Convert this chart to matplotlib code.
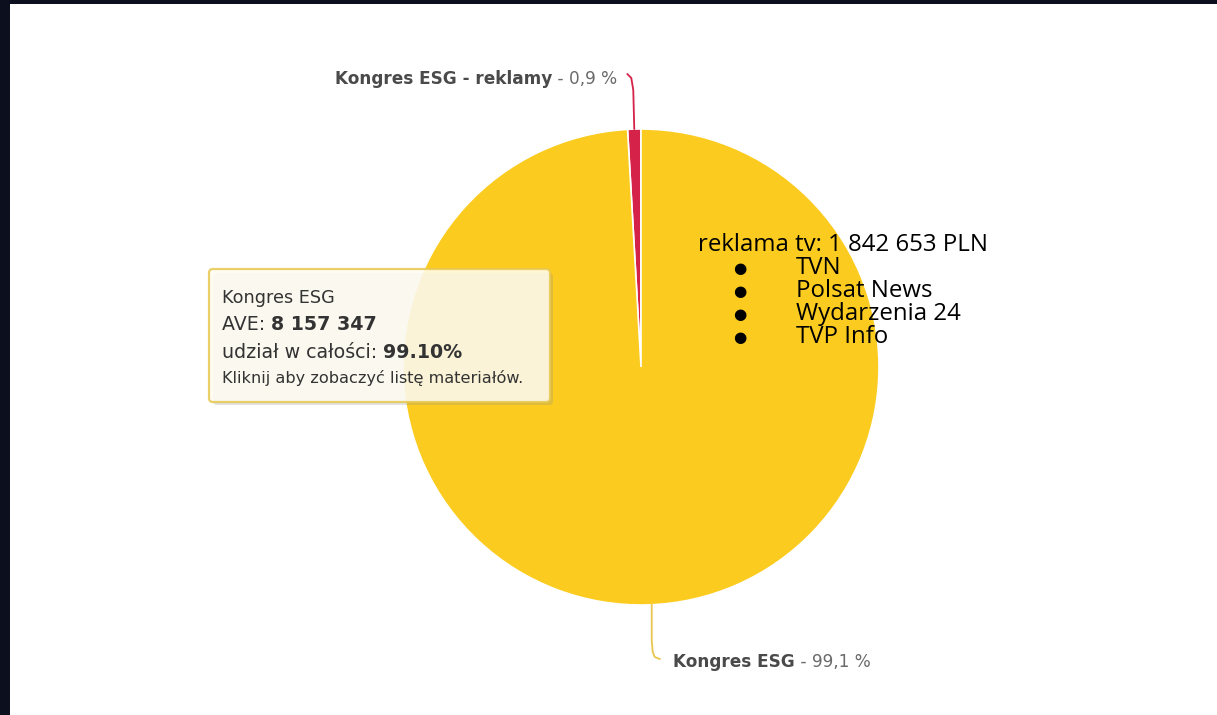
import matplotlib
matplotlib.use("Agg")
import matplotlib.pyplot as plt
from matplotlib.patches import Rectangle, FancyBboxPatch
import numpy as np

W, H = 1217, 715

# data
names = ["Kongres ESG - reklamy", "Kongres ESG"]
ave = [74085, 8157347]
colors = ["#d42249", "#fbcc1f"]
line_colors = ["#d42249", "#e9c64d"]
tv_title = "reklama tv: 1 842 653 PLN"
tv_channels = ["TVN", "Polsat News", "Wydarzenia 24", "TVP Info"]

share = np.array(ave) / np.sum(ave) * 100


def Y(y):
    # pixel row from the top -> data y
    return H - y


def fmt_pct(v):
    return f"{v:.1f}".replace(".", ",") + " %"


def fmt_int(v):
    return f"{v:,}".replace(",", " ")


fig = plt.figure(figsize=(W / 100, H / 100), dpi=100)
fig.patch.set_facecolor("#0c0f1e")
ax = fig.add_axes([0, 0, 1, 1])
ax.add_patch(Rectangle((10, 0), W - 10, H - 4, facecolor="white", edgecolor="none", zorder=0))

cx, cy, r = 641, Y(367), 238
wedges, _ = ax.pie(ave, colors=colors, startangle=90, counterclock=True,
                   center=(cx, cy), radius=r, frame=True,
                   wedgeprops=dict(edgecolor="white", linewidth=1.2))
ax.set_xlim(0, W)
ax.set_ylim(0, H)
ax.set_aspect("equal")
ax.axis("off")

fig.canvas.draw()
renderer = fig.canvas.get_renderer()


def rich(x, y, parts, ha="left", **kw):
    # parts: list of (text, weight, color, size)
    texts = []
    cur = x
    seq = parts if ha == "left" else parts[::-1]
    for s, weight, col, size in seq:
        t = ax.text(cur, y, s, ha=ha, va="baseline", fontweight=weight,
                    color=col, fontsize=size, zorder=10, **kw)
        bb = t.get_window_extent(renderer)
        cur = bb.x1 if ha == "left" else bb.x0
        texts.append(t)
    return texts


lab_font = "DejaVu Sans"
lab_size = 12.2

# connector for small slice
a = np.deg2rad(90 + share[0] * 3.6 / 2)
px, py = cx + r * np.cos(a), cy + r * np.sin(a)
ax.plot([px, px - 1, px - 3, px - 7], [py, Y(90), Y(78), Y(74)],
        color=line_colors[0], lw=1.3, zorder=5, solid_capstyle="round")
rich(617, Y(84), [(names[0], "bold", "#4a4a4a", lab_size),
                  (" - " + fmt_pct(share[0]), "normal", "#6a6a6a", lab_size)],
     ha="right", family=lab_font)

# connector for big slice
a = np.deg2rad(90 + share[0] * 3.6 + share[1] * 3.6 / 2)
px, py = cx + r * np.cos(a), cy + r * np.sin(a)
ax.plot([px + 4, px + 4, px + 5, px + 7, px + 12], [py, Y(640), Y(652), Y(657), Y(659)],
        color=line_colors[1], lw=1.3, zorder=5)
rich(673, Y(667), [(names[1], "bold", "#4a4a4a", lab_size),
                   (" - " + fmt_pct(share[1]), "normal", "#6a6a6a", lab_size)],
     ha="left", family=lab_font)

# tooltip
ax.add_patch(FancyBboxPatch((213, Y(405)), 340, 132, boxstyle="round,pad=0,rounding_size=4",
                            facecolor="#8a8a8a", edgecolor="none", alpha=0.25, zorder=7))
ax.add_patch(FancyBboxPatch((209, Y(402)), 341, 133, boxstyle="round,pad=0,rounding_size=4",
                            facecolor="#fffdf2", edgecolor="#e8c750", linewidth=1.6,
                            alpha=0.86, zorder=8))
tcol = "#333333"
ax.text(222, Y(303), names[1], fontsize=12.7, color=tcol, family=lab_font, zorder=10)
rich(222, Y(330), [("AVE: ", "normal", tcol, 13.7),
                   (fmt_int(ave[1]), "bold", tcol, 13.7)], family=lab_font)
rich(222, Y(358), [("udział w całości: ", "normal", tcol, 13.7),
                   (f"{share[1]:.2f}%", "bold", tcol, 13.7)], family=lab_font)
ax.text(222, Y(383), "Kliknij aby zobaczyć listę materiałów.", fontsize=11.6,
        color=tcol, family=lab_font, zorder=10)

# overlay text
ov_font = ["Open Sans", "DejaVu Sans"]
ov_size = 17.3
ax.text(698, Y(251), tv_title, fontsize=ov_size, color="black", family=ov_font, zorder=11)
for i, ch in enumerate(tv_channels):
    yy = Y(274 + i * 23)
    ax.text(740, yy + 1, "●", fontsize=11, color="black", ha="center", family="DejaVu Sans", zorder=11)
    ax.text(796, yy, ch, fontsize=ov_size, color="black", family=ov_font, zorder=11)

fig.savefig("out.png", dpi=100, facecolor=fig.get_facecolor())
